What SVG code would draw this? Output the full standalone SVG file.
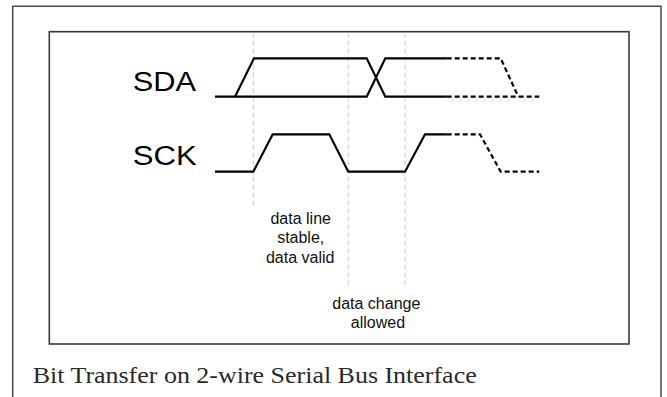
<svg xmlns="http://www.w3.org/2000/svg" width="667" height="397" viewBox="0 0 667 397">
<style>
.frame{fill:none;stroke:#4a4a4a;stroke-width:1.5}
.box{fill:none;stroke:#3a3a3a;stroke-width:1.6}
.wave{fill:none;stroke:#000;stroke-width:2.2;stroke-linejoin:miter}
.wdash{fill:none;stroke:#000;stroke-width:2.2;stroke-dasharray:5,3}
.guide{fill:none;stroke:#cfc6c6;stroke-width:1;stroke-dasharray:5,3}
.sig{font-family:"Liberation Sans",Arial,sans-serif;font-size:27px;fill:#000}
.lbl{font-family:"Liberation Sans",Arial,sans-serif;font-size:16px;fill:#111;text-anchor:middle}
.cap{font-family:"Liberation Serif","Times New Roman",serif;font-size:23px;fill:#2a2a2a}
</style>
<rect width="667" height="397" fill="#fff"/>
<g id="outer-frame">
<path class="frame" d="M12.7,397 V6.3 H661 V397"/>
</g>
<g id="diagram-box">
<rect class="box" x="49.3" y="31.7" width="579.7" height="312.3"/>
</g>
<g id="guides">
<line class="guide" x1="253.3" y1="32.5" x2="253.3" y2="208.3"/>
<line class="guide" x1="348.3" y1="32.5" x2="348.3" y2="285"/>
<line class="guide" x1="405" y1="32.5" x2="405" y2="285"/>
</g>
<g id="sda-label">
<text class="sig" x="132.7" y="90.5" textLength="63.3" lengthAdjust="spacingAndGlyphs">SDA</text>
</g>
<g id="sck-label">
<text class="sig" x="132.7" y="165" textLength="64" lengthAdjust="spacingAndGlyphs">SCK</text>
</g>
<g id="sda-wave">
<path class="wave" d="M215,96.7 H235 L254,58.3 H366.7 L385.3,96.7 H446.7"/>
<path class="wave" d="M235,96.7 H366.7 L385.3,58.3 H446.7"/>
<path class="wdash" d="M446.7,58.3 H500.7 L518.3,96.7"/>
<path class="wdash" d="M446.7,96.7 H539.3"/>
</g>
<g id="sck-wave">
<path class="wave" d="M215,171.7 H253.3 L272.7,134.3 H329.3 L348.3,171.7 H405 L425,134.3 H446.7"/>
<path class="wdash" d="M446.7,134.3 H480 L500.7,171.7 H539.3"/>
</g>
<g id="label-stable">
<text class="lbl" x="300.7" y="224.3">data line</text>
<text class="lbl" x="300.7" y="243.3">stable,</text>
<text class="lbl" x="300.2" y="262.7">data valid</text>
</g>
<g id="label-change">
<text class="lbl" x="376.3" y="309">data change</text>
<text class="lbl" x="378" y="328">allowed</text>
</g>
<g id="caption">
<text class="cap" x="32.7" y="383.3" textLength="444" lengthAdjust="spacingAndGlyphs">Bit Transfer on 2-wire Serial Bus Interface</text>
</g>
</svg>
